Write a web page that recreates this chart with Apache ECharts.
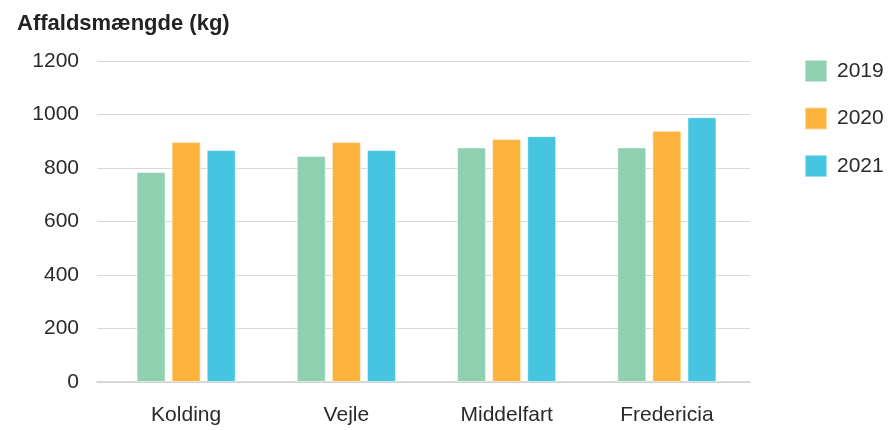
<!DOCTYPE html>
<html><head><meta charset="utf-8">
<script src="https://cdn.jsdelivr.net/npm/echarts@6/dist/echarts.min.js"></script>
<style>html,body{margin:0;padding:0;background:#fff}#c{width:890px;height:430px}</style>
</head><body><div id="c"></div>
<script>
var categories = ['Kolding', 'Vejle', 'Middelfart', 'Fredericia'];
var seriesNames = ['2019', '2020', '2021'];
var values2019 = [785, 845, 877, 877];
var values2020 = [897, 897, 908, 939];
var values2021 = [867, 867, 919, 990];
var yTicks = [0, 200, 400, 600, 800, 1000, 1200];
var colors = ['#8FD0B0', '#FBB33C', '#45C5DF'];
var allValues = [values2019, values2020, values2021];

var chart = echarts.init(document.getElementById('c'), null, {renderer: 'canvas'});
var font = 'Liberation Sans, Arial, Helvetica, sans-serif';
var yMin = yTicks[0], yMax = yTicks[yTicks.length - 1];
chart.setOption({
  animation: false,
  color: colors,
  textStyle: {fontFamily: font},
  title: {
    text: 'Affaldsmængde (kg)', left: 17, top: 13, padding: 0,
    textStyle: {fontSize: 22, fontWeight: 'bold', color: '#222', fontFamily: font}
  },
  legend: {
    orient: 'vertical', left: 804, top: 59, padding: 0,
    itemWidth: 22, itemHeight: 22, itemGap: 23.5,
    icon: 'rect',
    textStyle: {fontSize: 21, color: '#2a2a2a', fontFamily: font, padding: [0, 0, 0, 5]},
    data: seriesNames
  },
  grid: [
    {left: 97, right: 140, top: 61, bottom: 48, containLabel: false},
    {left: 106, right: 143, top: 61, bottom: 48, containLabel: false}
  ],
  xAxis: [
    {
      type: 'category', gridIndex: 0, data: categories,
      axisLine: {lineStyle: {color: '#cfcfcf', width: 1.5}},
      axisTick: {show: false}, axisLabel: {show: false}
    },
    {
      type: 'category', gridIndex: 1, data: categories,
      axisLine: {show: false}, axisTick: {show: false},
      axisLabel: {fontSize: 21, color: '#2a2a2a', margin: 23, fontFamily: font}
    }
  ],
  yAxis: [
    {
      type: 'value', gridIndex: 0, min: yMin, max: yMax, interval: 200,
      axisLine: {show: false}, axisTick: {show: false},
      splitLine: {lineStyle: {color: '#d8d8d8', width: 1.2}},
      axisLabel: {fontSize: 21, color: '#2a2a2a', margin: 18, fontFamily: font,
        formatter: function (v) { return String(v); }}
    },
    {
      type: 'value', gridIndex: 1, min: yMin, max: yMax, interval: 200,
      show: false, splitLine: {show: false}
    }
  ],
  series: seriesNames.map(function (n, i) {
    return {
      name: n, type: 'bar', data: allValues[i],
      xAxisIndex: 1, yAxisIndex: 1,
      barWidth: 29, barGap: '21%',
      itemStyle: {color: colors[i], borderColor: 'rgba(255,255,255,0.5)', borderWidth: 1}
    };
  })
});
</script></body></html>
